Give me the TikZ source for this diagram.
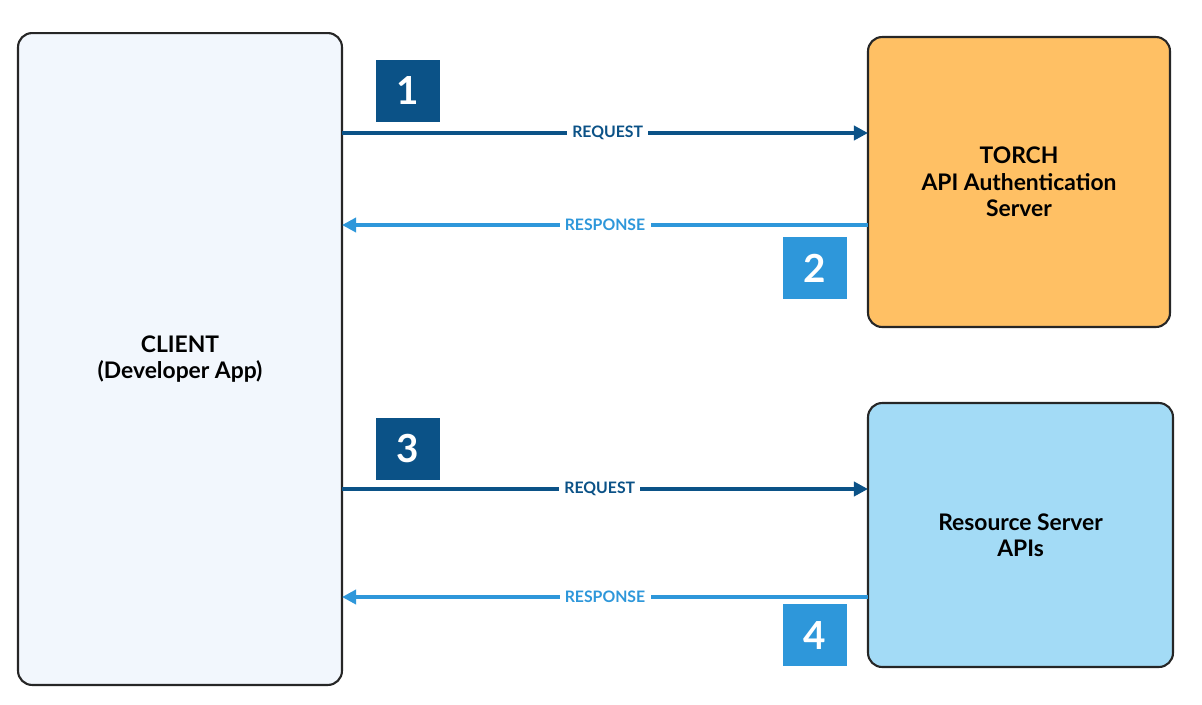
\documentclass[tikz,border=0pt]{standalone}
\usepackage{fontspec}
\setmainfont{Lato}
\usetikzlibrary{arrows.meta,positioning}
\definecolor{darkblue}{HTML}{0B5287}
\definecolor{lightblue}{HTML}{2E97DA}
\definecolor{clientfill}{HTML}{F2F7FD}
\definecolor{torchfill}{HTML}{FFC064}
\definecolor{resfill}{HTML}{A3DBF6}
\begin{document}
\begin{tikzpicture}[
    x=0.02cm, y=-0.02cm,
    server/.style={rectangle, draw=black!85, line width=1.2pt, rounded corners=8pt, align=center, font=\bfseries\fontsize{13}{15}\selectfont},
    stepbox/.style={rectangle, minimum width=1.28cm, minimum height=1.24cm, text=white, font=\bfseries\fontsize{22}{24}\selectfont},
    msg/.style={fill=white, inner sep=3pt, font=\bfseries\fontsize{9}{10}\selectfont},
    req/.style={-{Triangle[length=8pt,width=8pt]}, darkblue, line width=2pt},
    resp/.style={-{Triangle[length=8pt,width=8pt]}, lightblue, line width=2pt},
]
\useasboundingbox (0,0) rectangle (1202,704);

\node[server, fill=clientfill, minimum width=6.48cm, minimum height=13.04cm] (client) at (180,359) {CLIENT\\(Developer App)};
\node[server, fill=torchfill, minimum width=6.04cm, minimum height=5.8cm] (torch) at (1019,182) {TORCH\\API Authentication\\Server};
\node[server, fill=resfill, minimum width=6.1cm, minimum height=5.28cm] (res) at (1020.5,535) {Resource Server\\APIs};

\node[stepbox, fill=darkblue] (s1) at (408,91) {1};
\node[stepbox, fill=lightblue] (s2) at (815,268) {2};
\node[stepbox, fill=darkblue] (s3) at (408,449) {3};
\node[stepbox, fill=lightblue] (s4) at (815,635) {4};

% Arrows
\coordinate (a1) at (342,133); \coordinate (b1) at (868,133);
\coordinate (a2) at (868,225); \coordinate (b2) at (342,225);
\coordinate (a3) at (342,489); \coordinate (b3) at (868,489);
\coordinate (a4) at (868,597); \coordinate (b4) at (342,597);
\draw[req] (a1) -- node[msg, pos=0.505] {REQUEST} (b1);
\draw[resp] (a2) -- node[msg, pos=0.5] {RESPONSE} (b2);
\draw[req] (a3) -- node[msg, pos=0.49] {REQUEST} (b3);
\draw[resp] (a4) -- node[msg, pos=0.5] {RESPONSE} (b4);

\end{tikzpicture}
\end{document}
